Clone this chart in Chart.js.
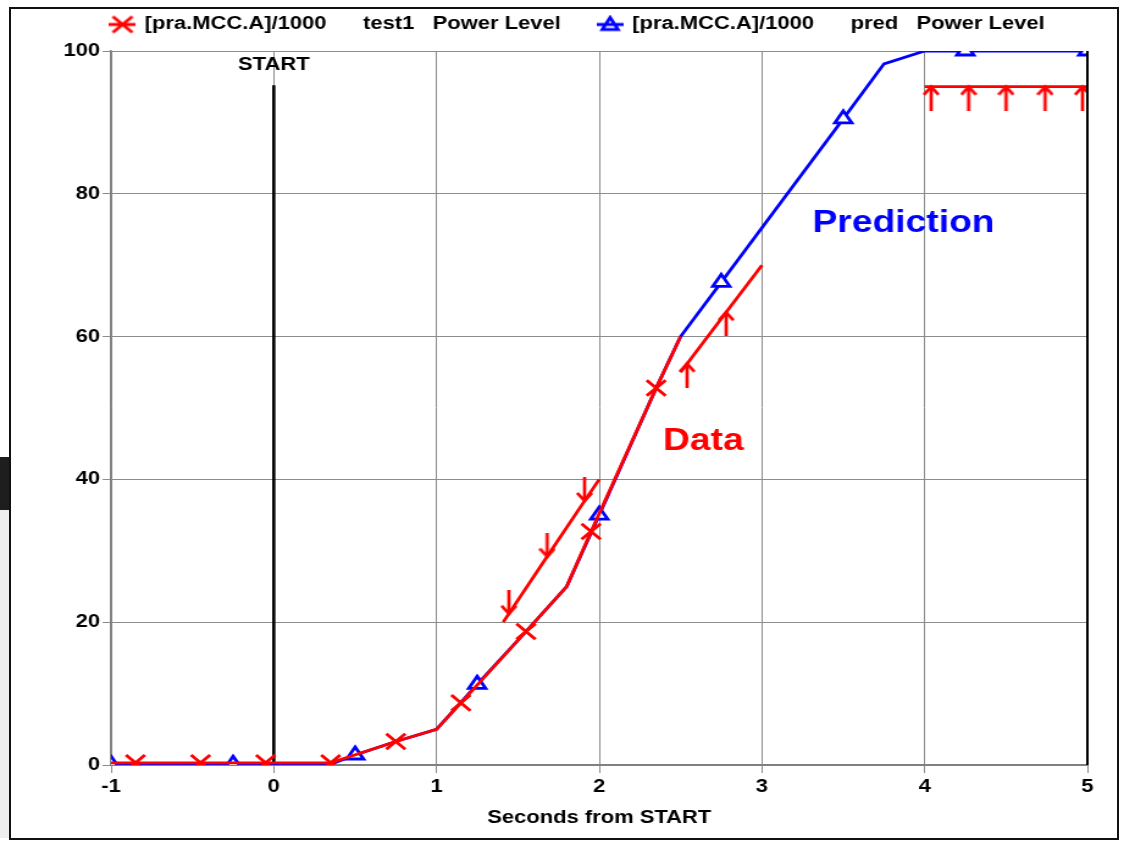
<!DOCTYPE html>
<html>
<head>
<meta charset="utf-8">
<script src="https://cdn.jsdelivr.net/npm/chart.js@4.4.1/dist/chart.umd.min.js"></script>
<style>
  html, body { margin: 0; padding: 0; background: #fff; }
  body { width: 1124px; height: 843px; position: relative; overflow: hidden; }
  .frame { position: absolute; left: 9px; top: 7px; width: 1110px; height: 833px; border: 2px solid #111; box-sizing: border-box; }
  .side-dark { position: absolute; left: 0; top: 457px; width: 11px; height: 53px; background: #1e1e1e; }
  .side-light { position: absolute; left: 0; top: 510px; width: 10px; height: 328px; background: #eeeeee; border-right: 1px solid #666; box-sizing: border-box; }
  /* the source picture is stretched sideways, so the canvas is too */
  #chart { position: absolute; left: 0; top: 0; transform: scaleX(1.2204); transform-origin: 0 0; }
</style>
</head>
<body>
<div class="side-dark"></div>
<div class="side-light"></div>
<div class="frame"></div>
<canvas id="chart" width="921" height="843"></canvas>
<script>
// measured power level (test1); 1 = marker at that vertex
const testX = [-1, -0.85, -0.45, -0.05, 0.35, 0.75, 1.0, 1.15, 1.55, 1.8, 1.95, 2.35, 2.5];
const testY = [0.3, 0.3, 0.3, 0.3, 0.3, 3.3, 5.0, 8.7, 18.7, 25.0, 32.7, 52.8, 60.0];
const testMark = [0, 1, 1, 1, 1, 1, 0, 1, 1, 0, 1, 1, 0];

// predicted power level (pred)
const predX = [-1, -0.25, 0.35, 0.5, 0.75, 1.0, 1.25, 1.55, 1.8, 2.0, 2.35, 2.5, 2.75, 3.5, 3.75, 4.0, 4.25, 5.0];
const predY = [0.1, 0.1, 0.1, 1.4, 3.3, 5.0, 11.3, 18.7, 25.0, 35.0, 52.8, 60.0, 67.6, 90.5, 98.2, 100, 100, 100];
const predMark = [1, 1, 0, 1, 0, 0, 1, 0, 0, 1, 0, 0, 1, 1, 0, 0, 1, 1];

// limit lines with arrows (1 = arrow tip at that point)
const lowX = [1.41, 1.445, 1.68, 1.91, 2.0];
const lowY = [20.0, 21.2, 29.2, 37.0, 40.0];
const lowArrow = [0, 1, 1, 1, 0];
const midX = [2.5, 2.54, 2.78, 3.0];
const midY = [55.0, 56.2, 63.4, 70.0];
const midArrow = [0, 1, 1, 0];
const highX = [4.0, 4.04, 4.27, 4.5, 4.74, 4.97, 5.0];
const highY = [95, 95, 95, 95, 95, 95, 95];
const highArrow = [0, 1, 1, 1, 1, 1, 0];

// START marker line
const startX = [0, 0];
const startY = [0, 95.2];

const notes = [
  { text: 'START', x: 0, y: 98, color: '#000000', size: 18 },
  { text: 'Prediction', x: 3.87, y: 75.8, color: '#0000ff', size: 30.5 },
  { text: 'Data', x: 2.64, y: 45.3, color: '#ff0000', size: 30.5 }
];

const FONT = '"Liberation Sans", Arial, sans-serif';
Chart.defaults.font.family = FONT;
Chart.defaults.font.size = 18;
Chart.defaults.font.weight = 'bold';
Chart.defaults.color = '#000';

function pts(xs, ys) {
  return xs.map((v, i) => ({ x: v, y: ys[i] }));
}

function arrowIcon(dir) {
  const len = 24;
  const c = document.createElement('canvas');
  c.width = 14; c.height = len * 2;
  const g = c.getContext('2d');
  g.strokeStyle = '#ff0000';
  g.lineWidth = 2.7;
  const end = dir === 'up' ? len * 2 : 0;
  const h = dir === 'up' ? 8 : -8;
  g.beginPath();
  g.moveTo(7, end); g.lineTo(7, len);
  g.moveTo(1, len + h); g.lineTo(7, len); g.lineTo(13, len + h);
  g.stroke();
  return c;
}
const upArrow = arrowIcon('up');
const downArrow = arrowIcon('down');

function legendIcon(kind, color) {
  const c = document.createElement('canvas');
  c.width = 22; c.height = 20;
  const g = c.getContext('2d');
  g.strokeStyle = color;
  g.lineWidth = 2.8;
  g.beginPath();
  g.moveTo(0, 10); g.lineTo(22, 10);
  if (kind === 'x') {
    g.moveTo(3, 2); g.lineTo(19, 18);
    g.moveTo(19, 2); g.lineTo(3, 18);
  } else {
    g.moveTo(11, 3); g.lineTo(17.5, 15); g.lineTo(4.5, 15); g.closePath();
  }
  g.stroke();
  return c;
}
const legendIcons = [legendIcon('x', '#ff0000'), legendIcon('tri', '#0000ff')];

function limitSet(xs, ys, flags, icon) {
  return {
    label: 'limit',
    data: pts(xs, ys),
    borderColor: '#ff0000',
    borderWidth: 2.8,
    pointStyle: c => flags[c.dataIndex] ? icon : 'circle',
    pointRadius: c => flags[c.dataIndex] ? 1 : 0,
    clip: 0
  };
}

const notesPlugin = {
  id: 'notes',
  afterDatasetsDraw(chart) {
    const { ctx, chartArea: a, scales: { x, y } } = chart;
    ctx.save();
    // black right edge of the plot
    ctx.strokeStyle = '#000';
    ctx.lineWidth = 2;
    ctx.beginPath();
    ctx.moveTo(a.right, a.top);
    ctx.lineTo(a.right, a.bottom);
    ctx.stroke();
    ctx.textAlign = 'center';
    ctx.textBaseline = 'middle';
    notes.forEach(n => {
      ctx.fillStyle = n.color;
      ctx.font = 'bold ' + n.size + 'px ' + FONT;
      ctx.fillText(n.text, x.getPixelForValue(n.x), y.getPixelForValue(n.y));
    });
    ctx.restore();
  }
};

const ctx = document.getElementById('chart').getContext('2d');
new Chart(ctx, {
  type: 'line',
  data: {
    datasets: [
      {
        label: '[pra.MCC.A]/1000      test1   Power Level',
        data: pts(testX, testY),
        borderColor: '#ff0000',
        borderWidth: 2.8,
        pointStyle: 'crossRot',
        pointRadius: c => testMark[c.dataIndex] ? 11 : 0,
        pointBorderColor: '#ff0000',
        pointBorderWidth: 2.8,
        clip: 0
      },
      {
        label: '[pra.MCC.A]/1000      pred   Power Level',
        data: pts(predX, predY),
        borderColor: '#0000ff',
        borderWidth: 2.8,
        pointStyle: 'triangle',
        pointRadius: c => predMark[c.dataIndex] ? 8 : 0,
        pointBorderColor: '#0000ff',
        pointBackgroundColor: '#ffffff',
        pointBorderWidth: 2.8,
        clip: 0
      },
      limitSet(lowX, lowY, lowArrow, downArrow),
      limitSet(midX, midY, midArrow, upArrow),
      limitSet(highX, highY, highArrow, upArrow),
      {
        label: 'START',
        data: pts(startX, startY),
        borderColor: '#000000',
        borderWidth: 2.6,
        pointRadius: 0,
        clip: 0
      }
    ]
  },
  options: {
    responsive: false,
    animation: false,
    devicePixelRatio: 1,
    events: [],
    layout: {
      padding: { left: 60, right: 30, top: -15.9, bottom: 0 }
    },
    scales: {
      x: {
        type: 'linear',
        min: -1,
        max: 5,
        ticks: { stepSize: 1, padding: 3 },
        grid: { color: '#8c8c8c', lineWidth: 1, tickLength: 8 },
        border: { color: '#808080', width: 2 },
        title: {
          display: true,
          text: 'Seconds from START',
          padding: { top: 0, bottom: 14 }
        },
        afterFit: s => { s.height = 78; }
      },
      y: {
        min: 0,
        max: 100,
        // mirrored + negative padding keeps the labels left of the axis without clipping "100"
        ticks: { stepSize: 20, mirror: true, crossAlign: 'far', padding: -39 },
        grid: { color: '#8c8c8c', lineWidth: 1, tickLength: 7 },
        border: { color: '#808080', width: 1.5 },
        afterFit: s => { s.width = 31; }
      }
    },
    plugins: {
      tooltip: { enabled: false },
      // empty title used as a spacer between legend and plot
      title: { display: true, text: '', position: 'top', weight: 500, padding: 0, font: { size: 6.25 } },
      legend: {
        position: 'top',
        align: 'start',
        labels: {
          usePointStyle: true,
          pointStyleWidth: 18,
          padding: 31.4,
          color: '#000',
          font: { size: 18, weight: 'bold' },
          filter: item => item.datasetIndex < 2,
          generateLabels: chart => {
            const items = Chart.defaults.plugins.legend.labels.generateLabels(chart);
            return items.map((it, i) => Object.assign(it, { pointStyle: legendIcons[i] || it.pointStyle }));
          }
        }
      }
    }
  },
  plugins: [notesPlugin]
});
</script>
</body>
</html>
